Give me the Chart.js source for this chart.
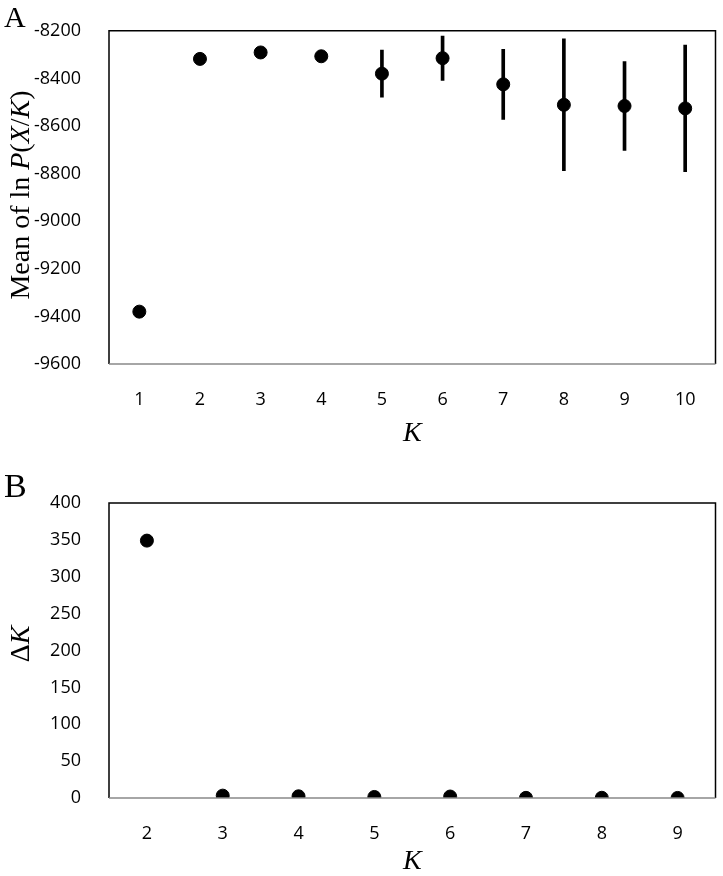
<!DOCTYPE html>
<html>
<head>
<meta charset="utf-8">
<script src="https://cdn.jsdelivr.net/npm/chart.js@4"></script>
<style>
  body { margin: 0; background: #fff; }
  #wrap { position: relative; width: 723px; height: 876px; }
  canvas { position: absolute; left: 0; }
  .panel { position: absolute; left: 4px; font-family: "Liberation Serif", serif; line-height: 1; color: #000; }
  .ytitle { position: absolute; font: 28px "Liberation Serif", serif; line-height: 1; white-space: nowrap;
            transform: translate(-50%, -50%) rotate(-90deg); color: #000; }
</style>
</head>
<body>
<div id="wrap">
  <canvas id="chartA" width="723" height="448" style="top:0"></canvas>
  <canvas id="chartB" width="723" height="428" style="top:448px"></canvas>
  <div class="panel" style="top:2px; font-size:30px">A</div>
  <div class="panel" style="top:469px; font-size:34px">B</div>
  <div class="ytitle" style="left:20px; top:195px">Mean of ln <i>P</i>(<i>X</i>/<i>K</i>)</div>
  <div class="ytitle" style="left:20px; top:644px">&Delta;<i>K</i></div>
</div>
<script>
// panel A: mean log likelihood per K, with standard deviation
var kA = ['1', '2', '3', '4', '5', '6', '7', '8', '9', '10'];
var meanA = [-9380, -8318, -8291, -8307, -8380, -8315, -8425, -8511, -8516, -8526];
var sdA = [5, 8, 8, 20, 99, 93, 147, 277, 187, 266];

// panel B: delta K
var kB = ['2', '3', '4', '5', '6', '7', '8', '9'];
var deltaK = [349, 3.2, 2.3, 1.4, 2.0, 0.2, 0.3, 0.1];

var tickFont = { family: "'Open Sans', sans-serif", size: 18 };
var kTitle = { display: true, text: 'K', color: '#000', padding: 0,
  font: { family: "'Liberation Serif', serif", size: 28, style: 'italic', lineHeight: 1 } };

// box around the plot area, bottom edge grey like the axis line
var frame = {
  id: 'frame',
  afterDraw: function(chart) {
    var a = chart.chartArea, c = chart.ctx;
    c.save();
    c.lineWidth = 1.5;
    c.strokeStyle = '#000';
    c.beginPath();
    c.moveTo(a.left, a.bottom);
    c.lineTo(a.left, a.top);
    c.lineTo(a.right, a.top);
    c.lineTo(a.right, a.bottom);
    c.stroke();
    c.strokeStyle = '#888';
    c.beginPath();
    c.moveTo(a.left, a.bottom);
    c.lineTo(a.right, a.bottom);
    c.stroke();
    c.restore();
  }
};

function yAxis(min, max, step, width) {
  return {
    min: min, max: max,
    grid: { display: false },
    border: { display: false },
    ticks: { stepSize: step, color: '#000', font: tickFont, padding: 20,
      callback: function(v) { return String(v); } },
    afterFit: function(s) { s.width = width; }
  };
}
function xAxis(height) {
  return {
    offset: true,
    grid: { display: false },
    border: { display: false },
    ticks: { color: '#000', font: tickFont, padding: 17 },
    title: kTitle,
    afterFit: function(s) { s.height = height; }
  };
}

new Chart(document.getElementById('chartA'), {
  type: 'bar',
  data: {
    labels: kA,
    datasets: [{
      type: 'line',
      data: meanA,
      showLine: false,
      pointRadius: 6.5,
      pointBackgroundColor: '#000',
      pointBorderColor: '#000',
      order: 0
    }, {
      type: 'bar',
      data: meanA.map(function(m, i) { return [m - sdA[i], m + sdA[i]]; }),
      backgroundColor: '#000',
      barThickness: 3,
      order: 1
    }]
  },
  options: {
    responsive: false,
    animation: false,
    layout: { padding: { top: 22, right: 3, left: 0, bottom: 0 } },
    plugins: { legend: { display: false }, tooltip: { enabled: false } },
    scales: {
      x: xAxis(84),
      y: yAxis(-9600, -8200, 200, 109)
    }
  },
  plugins: [frame]
});

new Chart(document.getElementById('chartB'), {
  type: 'line',
  data: {
    labels: kB,
    datasets: [{
      data: deltaK,
      showLine: false,
      pointRadius: 6.5,
      pointBackgroundColor: '#000',
      pointBorderColor: '#000'
    }]
  },
  options: {
    responsive: false,
    animation: false,
    layout: { padding: { top: 55, right: 3, left: 0, bottom: 0 } },
    plugins: { legend: { display: false }, tooltip: { enabled: false } },
    scales: {
      x: xAxis(78),
      y: yAxis(0, 400, 50, 109)
    }
  },
  plugins: [frame]
});
</script>
</body>
</html>
